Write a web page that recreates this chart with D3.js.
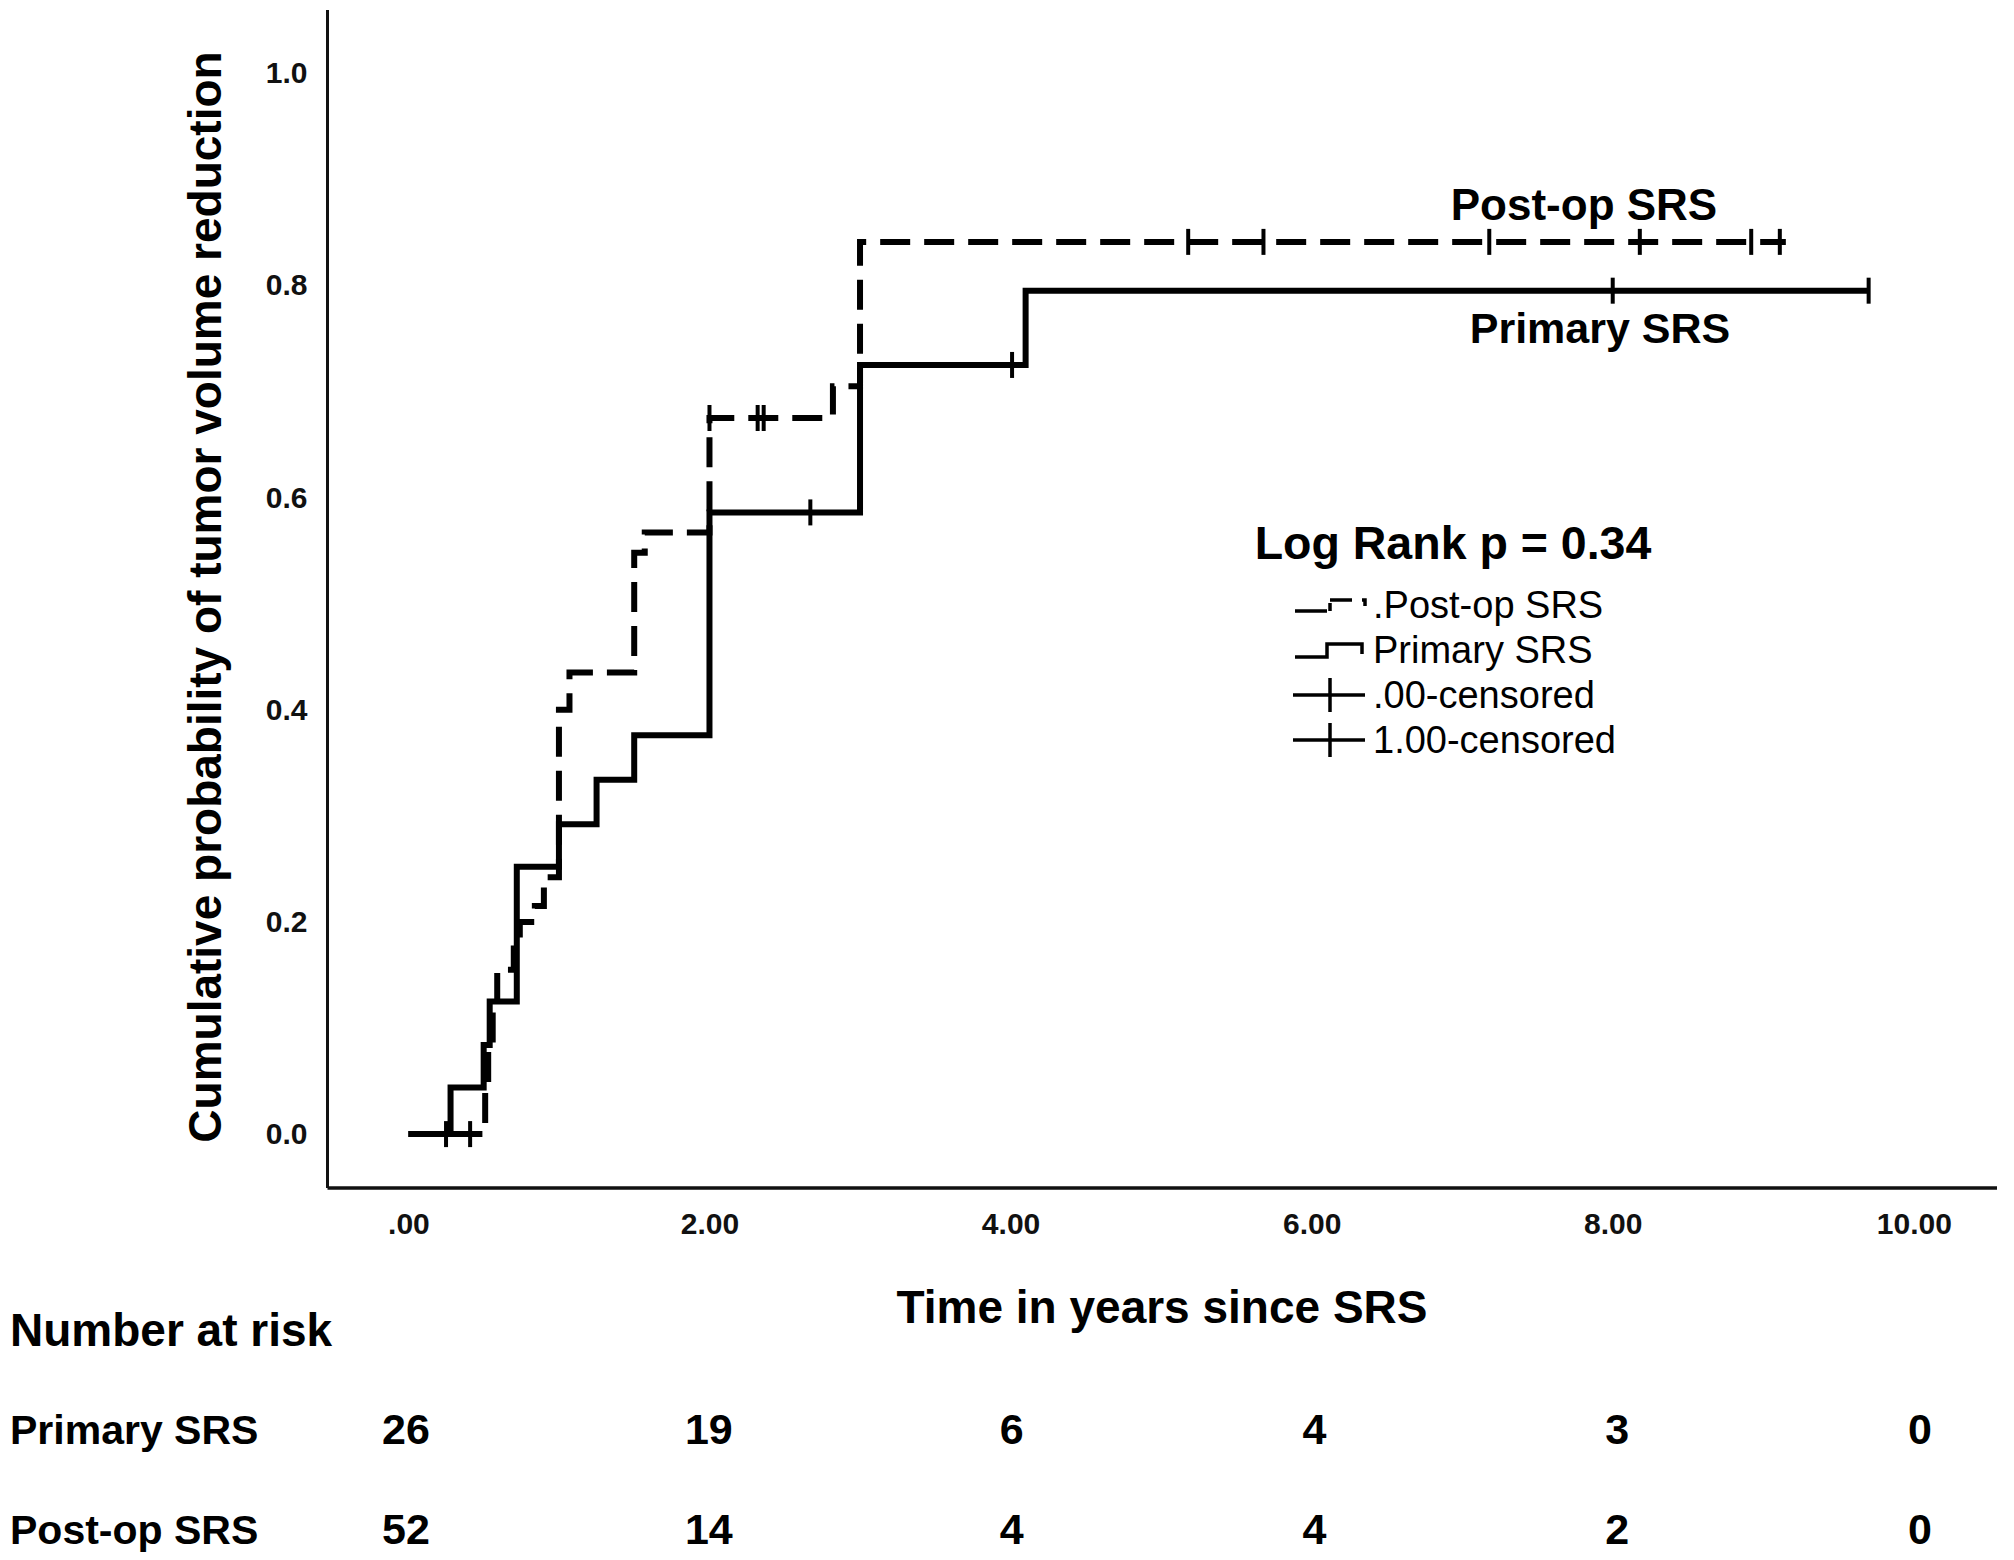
<!DOCTYPE html>
<html>
<head>
<meta charset="utf-8">
<script src="https://cdn.jsdelivr.net/npm/d3@7"></script>
<style>
  html, body { margin: 0; padding: 0; background: #fff; }
  svg { display: block; font-family: "Liberation Sans", Arial, sans-serif; }
</style>
</head>
<body>
<div id="root"></div>
<script>
// data
const timeTicks = [0, 2, 4, 6, 8, 10];
const timeTickLabels = [".00", "2.00", "4.00", "6.00", "8.00", "10.00"];
const probTicks = [0, 0.2, 0.4, 0.6, 0.8, 1.0];

// Primary SRS (solid)
const primaryTimes = [0, 0.28, 0.50, 0.54, 0.72, 1.00, 1.25, 1.50, 2.00, 3.00, 4.10];
const primaryProbs = [0, 0.044, 0.084, 0.125, 0.252, 0.292, 0.334, 0.376, 0.586, 0.725, 0.795];
const primaryEnd = 9.70;
const primaryCensored = [0.25, 2.67, 4.01, 8.00, 9.70];

// Post-op SRS (dashed)
const postopTimes = [0, 0.51, 0.53, 0.56, 0.59, 0.70, 0.74, 0.84, 0.90, 1.00, 1.07, 1.50, 1.57, 2.00, 2.82, 3.00];
const postopProbs = [0, 0.04, 0.08, 0.115, 0.155, 0.175, 0.20, 0.215, 0.242, 0.40, 0.435, 0.548, 0.567, 0.675, 0.705, 0.841];
const postopEnd = 9.15;
const postopCensored = [0.41, 2.00, 2.32, 2.36, 5.18, 5.68, 7.18, 8.18, 8.92, 9.11];

// number at risk table
const riskTimes = [0, 2, 4, 6, 8, 10];
const riskGroups = ["Primary SRS", "Post-op SRS"];
const riskPrimary = [26, 19, 6, 4, 3, 0];
const riskPostop = [52, 14, 4, 4, 2, 0];

const legendLabels = [".Post-op SRS", "Primary SRS", ".00-censored", "1.00-censored"];

const width = 2014;
const height = 1560;

const svg = d3.select("#root")
    .append("svg")
    .attr("width", width)
    .attr("height", height);

const x = d3.scaleLinear().domain([0, 10]).range([408.4, 1913.8]);
const y = d3.scaleLinear().domain([0, 1]).range([1134.1, 73.2]);
// the at-risk columns sit a little off the tick positions
const xRisk = d3.scaleLinear().domain([0, 10]).range([406, 1920]);

const axisX = 327.5;   // left axis line
const axisY = 1188;    // bottom axis line

// axis lines
svg.append("line")
    .attr("x1", axisX).attr("x2", axisX)
    .attr("y1", 10).attr("y2", axisY)
    .attr("stroke", "#111").attr("stroke-width", 3);
svg.append("line")
    .attr("x1", axisX).attr("x2", 1997)
    .attr("y1", axisY).attr("y2", axisY)
    .attr("stroke", "#111").attr("stroke-width", 3.5);

// tick labels
const yAxis = svg.append("g")
    .attr("transform", `translate(${axisX},0)`)
    .call(d3.axisLeft(y).tickValues(probTicks).tickSize(0).tickPadding(20).tickFormat(d3.format(".1f")));
yAxis.select(".domain").remove();
yAxis.selectAll("text")
    .attr("font-size", 30).attr("font-weight", "bold").attr("fill", "#111")
    .attr("font-family", "'Liberation Sans', Arial, sans-serif");

const xAxis = svg.append("g")
    .attr("transform", `translate(0,${axisY})`)
    .call(d3.axisBottom(x).tickValues(timeTicks).tickSize(0).tickPadding(25)
        .tickFormat((d, i) => timeTickLabels[i]));
xAxis.select(".domain").remove();
xAxis.selectAll("text")
    .attr("font-size", 30).attr("font-weight", "bold").attr("fill", "#111")
    .attr("font-family", "'Liberation Sans', Arial, sans-serif");

// axis titles
svg.append("text")
    .attr("transform", "translate(221,597) rotate(-90)")
    .attr("text-anchor", "middle")
    .attr("font-size", 46).attr("font-weight", "bold")
    .text("Cumulative probability of tumor volume reduction");

svg.append("text")
    .attr("x", 1162).attr("y", 1323)
    .attr("text-anchor", "middle")
    .attr("font-size", 46).attr("font-weight", "bold")
    .text("Time in years since SRS");

// curves
const stepLine = d3.line()
    .x(d => x(d[0]))
    .y(d => y(d[1]))
    .curve(d3.curveStepAfter);

function stepPoints(times, probs, end) {
    const pts = times.map((t, i) => [t, probs[i]]);
    pts.push([end, probs[probs.length - 1]]);
    return pts;
}
function valueAt(times, probs, t) {
    const i = d3.bisectRight(times, t) - 1;
    return probs[Math.max(0, i)];
}

const series = [
    {id: "postop", times: postopTimes, probs: postopProbs, end: postopEnd, cens: postopCensored, dash: "30,14"},
    {id: "primary", times: primaryTimes, probs: primaryProbs, end: primaryEnd, cens: primaryCensored, dash: null}
];

const curves = svg.append("g");
series.forEach(s => {
    curves.append("path")
        .datum(stepPoints(s.times, s.probs, s.end))
        .attr("d", stepLine)
        .attr("fill", "none")
        .attr("stroke", "#000")
        .attr("stroke-width", 6)
        .attr("stroke-dasharray", s.dash);

    curves.selectAll(".cens-" + s.id)
        .data(s.cens)
        .enter().append("line")
        .attr("class", "cens-" + s.id)
        .attr("x1", d => x(d)).attr("x2", d => x(d))
        .attr("y1", d => y(valueAt(s.times, s.probs, d)) - 13)
        .attr("y2", d => y(valueAt(s.times, s.probs, d)) + 13)
        .attr("stroke", "#000").attr("stroke-width", 4);
});

// curve labels
svg.append("text")
    .attr("x", 1584).attr("y", 220)
    .attr("text-anchor", "middle")
    .attr("font-size", 44).attr("font-weight", "bold")
    .text("Post-op SRS");
svg.append("text")
    .attr("x", 1600).attr("y", 343)
    .attr("text-anchor", "middle")
    .attr("font-size", 43).attr("font-weight", "bold")
    .text("Primary SRS");

// legend
svg.append("text")
    .attr("x", 1453).attr("y", 559)
    .attr("text-anchor", "middle")
    .attr("font-size", 46.5).attr("font-weight", "bold")
    .text("Log Rank p = 0.34");

const legendRows = [605, 650, 695, 740];
const lg = svg.append("g").attr("fill", "none").attr("stroke", "#000").attr("stroke-width", 3.5);
// post-op symbol
lg.append("path")
    .attr("d", `M1295,${legendRows[0] + 6}H1330V${legendRows[0] - 5}H1365V${legendRows[0] + 6}`)
    .attr("stroke-dasharray", "32,3,8,3,22,10,9,100");
// primary symbol
lg.append("path")
    .attr("d", `M1295,${legendRows[1] + 7}H1327V${legendRows[1] - 6}H1362V${legendRows[1] + 4}`);
// censor symbols
[2, 3].forEach(i => {
    lg.append("line")
        .attr("x1", 1293).attr("x2", 1365)
        .attr("y1", legendRows[i]).attr("y2", legendRows[i]);
    lg.append("line")
        .attr("x1", 1330).attr("x2", 1330)
        .attr("y1", legendRows[i] - 17).attr("y2", legendRows[i] + 17);
});

svg.append("g")
    .selectAll("text")
    .data(legendLabels)
    .enter().append("text")
    .attr("x", 1373)
    .attr("y", (d, i) => legendRows[i] + 13)
    .attr("font-size", 38)
    .text(d => d);

// number at risk
svg.append("text")
    .attr("x", 10).attr("y", 1346)
    .attr("font-size", 46).attr("font-weight", "bold")
    .text("Number at risk");

const rowY = [1444, 1544];
const riskRows = [riskPrimary, riskPostop];
riskGroups.forEach((g, r) => {
    svg.append("text")
        .attr("x", 10).attr("y", rowY[r])
        .attr("font-size", 41).attr("font-weight", "bold")
        .text(g);
    svg.append("g")
        .selectAll("text")
        .data(riskRows[r])
        .enter().append("text")
        .attr("x", (d, i) => xRisk(riskTimes[i]))
        .attr("y", rowY[r])
        .attr("text-anchor", "middle")
        .attr("font-size", 43).attr("font-weight", "bold")
        .text(d => d);
});
</script>
</body>
</html>
